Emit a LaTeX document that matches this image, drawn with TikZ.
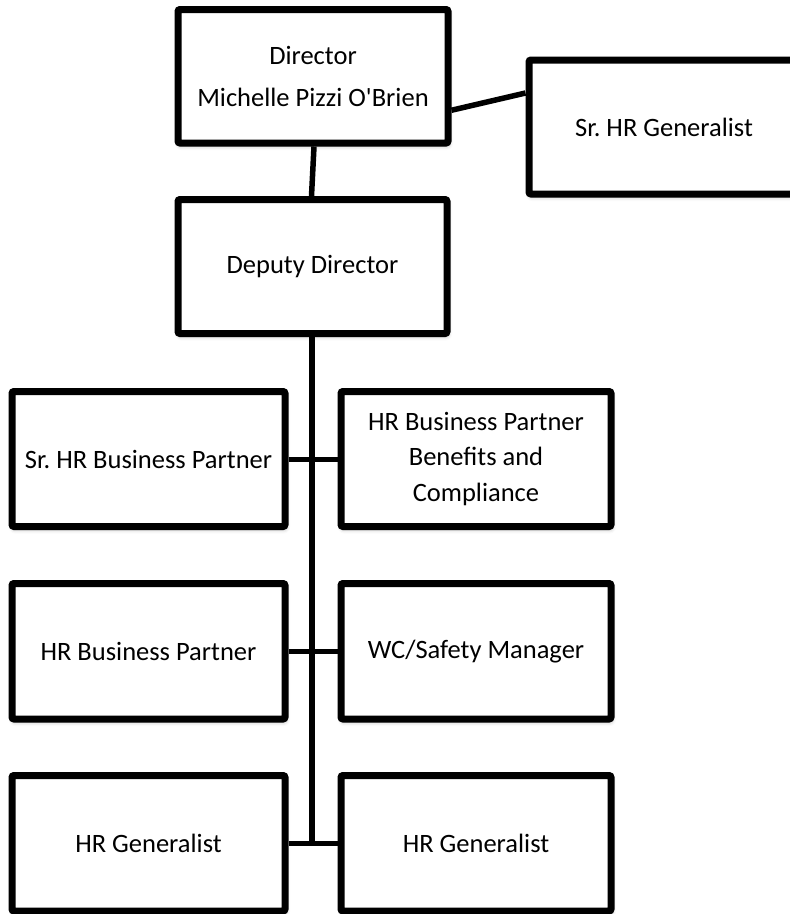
\documentclass[tikz,border=0pt]{standalone}
\usepackage{fontspec}
\setmainfont{Carlito}
\usetikzlibrary{shadows.blur}
\frenchspacing
\tikzset{
  orgbox/.style={draw=black, line width=7pt, rounded corners=2pt, fill=white,
    minimum width=270pt, minimum height=134pt, inner sep=0pt, align=center,
    font=\fontsize{26.5}{35.5}\selectfont,
    blur shadow={shadow xshift=1pt, shadow yshift=-3pt, shadow blur radius=4pt, shadow opacity=30}},
  wide/.style={minimum width=273pt},
  link/.style={draw=black, line width=5.5pt},
  hlink/.style={draw=black, line width=5pt}
}
\begin{document}
\begin{tikzpicture}[x=1pt, y=-1pt]
\useasboundingbox (0,0) rectangle (790,914);
\clip (0,0) rectangle (790,914);
\node[orgbox, minimum height=133.5pt] (dir) at (313,76.25) {Director\\[6pt]Michelle Pizzi O\textquotesingle Brien};
\node[orgbox] (srgen) at (664,127) {Sr. HR Generalist};
\node[orgbox, minimum width=269pt] (dep) at (312.5,266.5) {Deputy Director};
\node[orgbox, wide, minimum height=135pt] (l1) at (148.5,459) {Sr. HR Business Partner};
\node[orgbox, minimum height=135pt] (r1) at (476,459) {HR Business Partner\\Benefits and\\Compliance};
\node[orgbox, wide, minimum height=135.5pt] (l2) at (148.5,651.25) {HR Business Partner};
\node[orgbox, minimum height=135.5pt] (r2) at (476,651.25) {WC/Safety Manager};
\node[orgbox, wide, minimum height=135.5pt] (l3) at (148.5,843.25) {HR Generalist};
\node[orgbox, minimum height=135.5pt] (r3) at (476,843.25) {HR Generalist};
\draw[link] ([xshift=1pt]dir.south) -- ([xshift=-1pt]dep.north);
\draw[link] ([yshift=-34pt]dir.east) -- ([yshift=34pt]srgen.west);
\draw[link] ([xshift=-0.5pt]dep.south) coordinate (trunktop) -- (trunktop |- l3.east) coordinate (trunkend);
\draw[hlink] (l1.east) -- (r1.west);
\draw[hlink] (l2.east) -- (r2.west);
\draw[hlink] (l3.east) -- (r3.west);
\end{tikzpicture}
\end{document}
